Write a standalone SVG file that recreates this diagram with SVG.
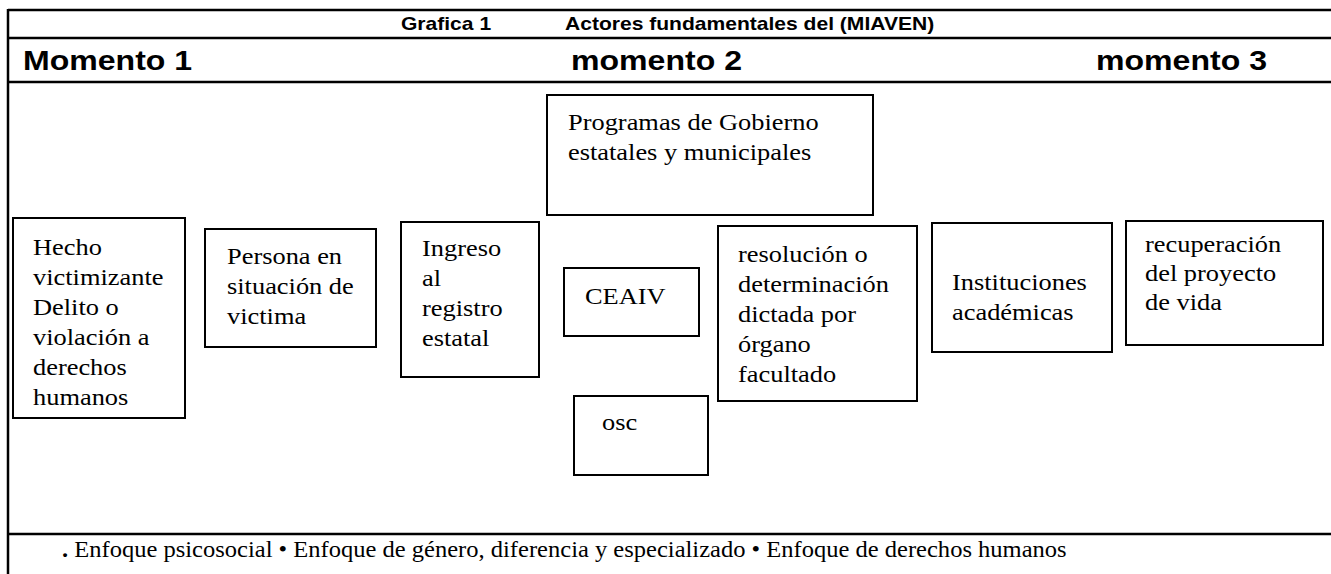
<svg xmlns="http://www.w3.org/2000/svg" width="1331" height="574" viewBox="0 0 1331 574">
<style>
.frame{stroke:#000;stroke-width:2.5;fill:none}
.box{fill:#fff;stroke:#000;stroke-width:2}
.hd{font-family:"Liberation Sans",Arial,sans-serif;font-weight:bold;fill:#000}
.t{font-family:"Liberation Serif","Times New Roman",serif;font-size:24px;fill:#000}
.f{font-family:"Liberation Serif","Times New Roman",serif;font-size:22.3px;fill:#000}
</style>
<rect width="1331" height="574" fill="#fff"/>
<g id="frame">
<line class="frame" x1="8" y1="10" x2="1331" y2="10"/>
<line class="frame" x1="8" y1="9" x2="8" y2="574"/>
<line class="frame" x1="8" y1="38" x2="1331" y2="38"/>
<line class="frame" x1="8" y1="82" x2="1331" y2="82"/>
<line class="frame" x1="8" y1="534" x2="1331" y2="534"/>
</g>
<g id="header">
<text class="hd" font-size="18" transform="translate(401 30) scale(1.17 1)">Grafica 1</text>
<text class="hd" font-size="18" transform="translate(565 30) scale(1.17 1)">Actores fundamentales del (MIAVEN)</text>
<text class="hd" font-size="27.4" transform="translate(23 70) scale(1.17 1)">Momento 1</text>
<text class="hd" font-size="27.4" transform="translate(571 70) scale(1.17 1)">momento 2</text>
<text class="hd" font-size="27.4" transform="translate(1096 70) scale(1.17 1)">momento 3</text>
</g>
<g id="connectors"></g>
<g id="programas">
<rect class="box" x="547" y="95" width="326" height="120"/>
<text class="t" transform="translate(568 130) scale(1.1 1)"><tspan x="0" y="0">Programas de Gobierno</tspan><tspan x="0" y="30">estatales y municipales</tspan></text>
</g>
<g id="hecho">
<rect class="box" x="13" y="218" width="172" height="200"/>
<text class="t" transform="translate(33 255) scale(1.1 1)"><tspan x="0" y="0">Hecho</tspan><tspan x="0" y="30">victimizante</tspan><tspan x="0" y="60">Delito o</tspan><tspan x="0" y="90">violación a</tspan><tspan x="0" y="120">derechos</tspan><tspan x="0" y="150">humanos</tspan></text>
</g>
<g id="persona">
<rect class="box" x="205" y="229" width="171" height="118"/>
<text class="t" transform="translate(227 264) scale(1.1 1)"><tspan x="0" y="0">Persona en</tspan><tspan x="0" y="30">situación de</tspan><tspan x="0" y="60">victima</tspan></text>
</g>
<g id="ingreso">
<rect class="box" x="401" y="222" width="138" height="155"/>
<text class="t" transform="translate(422 256) scale(1.1 1)"><tspan x="0" y="0">Ingreso</tspan><tspan x="0" y="30">al</tspan><tspan x="0" y="60">registro</tspan><tspan x="0" y="90">estatal</tspan></text>
</g>
<g id="ceaiv">
<rect class="box" x="564" y="268" width="135" height="68"/>
<text class="t" transform="translate(585 304) scale(1.1 1)">CEAIV</text>
</g>
<g id="osc">
<rect class="box" x="574" y="396" width="134" height="79"/>
<text class="t" transform="translate(602 430) scale(1.1 1)">osc</text>
</g>
<g id="resolucion">
<rect class="box" x="718" y="226" width="199" height="175"/>
<text class="t" transform="translate(738 262) scale(1.1 1)"><tspan x="0" y="0">resolución o</tspan><tspan x="0" y="30">determinación</tspan><tspan x="0" y="60">dictada por</tspan><tspan x="0" y="90">órgano</tspan><tspan x="0" y="120">facultado</tspan></text>
</g>
<g id="instituciones">
<rect class="box" x="932" y="223" width="180" height="129"/>
<text class="t" transform="translate(952 290) scale(1.1 1)"><tspan x="0" y="0">Instituciones</tspan><tspan x="0" y="30">académicas</tspan></text>
</g>
<g id="recuperacion">
<rect class="box" x="1126" y="221" width="197" height="124"/>
<text class="t" transform="translate(1145 252) scale(1.1 1)"><tspan x="0" y="0">recuperación</tspan><tspan x="0" y="29">del proyecto</tspan><tspan x="0" y="58">de vida</tspan></text>
</g>
<g id="footer">
<text class="f" transform="translate(62 557) scale(1.1 1)"><tspan font-weight="bold">.</tspan> Enfoque psicosocial • Enfoque de género, diferencia y especializado • Enfoque de derechos humanos</text>
</g>
</svg>
